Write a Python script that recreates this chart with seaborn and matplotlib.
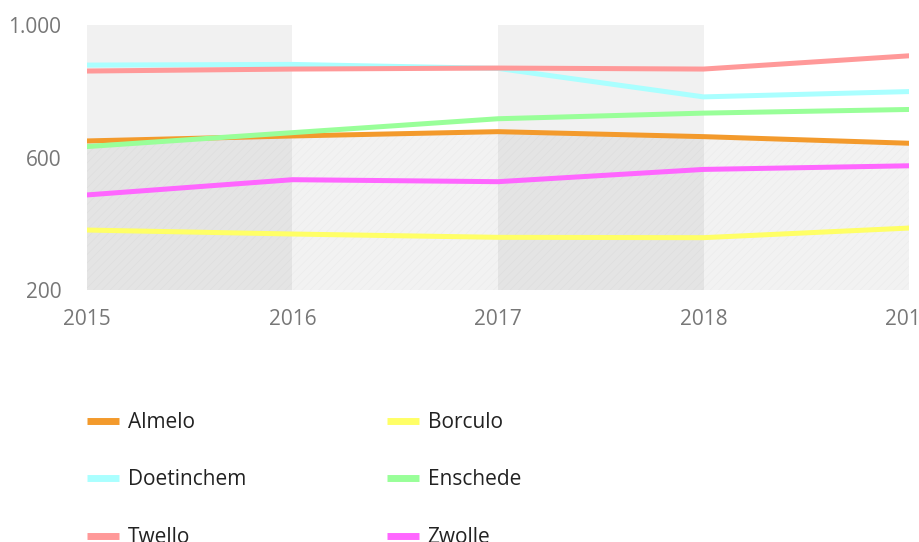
import matplotlib
matplotlib.use("Agg")
import matplotlib.pyplot as plt
import matplotlib.ticker as mticker
from matplotlib.lines import Line2D
import pandas as pd
import seaborn as sns

# ==========================================
# data
# ==========================================
years = [2015, 2016, 2017, 2018, 2019]
almelo = [650, 665, 678, 663, 643]
borculo = [381, 369, 359, 358, 387]
doetinchem = [879, 881, 869, 783, 799]
enschede = [633, 675, 717, 734, 745]
twello = [861, 867, 870, 867, 907]
zwolle = [487, 533, 527, 564, 575]

cities = ["Almelo", "Borculo", "Doetinchem", "Enschede", "Twello", "Zwolle"]
colors = ["#f39a2c", "#ffff66", "#aaffff", "#99ff99", "#ff9999", "#ff66ff"]
series = [almelo, borculo, doetinchem, enschede, twello, zwolle]

df = pd.concat(
    [pd.DataFrame({"year": years, "value": vals, "city": name})
     for name, vals in zip(cities, series)],
    ignore_index=True,
)

# --- style ---
sns.set_theme(style="white")
plt.rcParams["font.family"] = ["Open Sans", "DejaVu Sans"]
plt.rcParams["hatch.linewidth"] = 0.6

fig = plt.figure(figsize=(9.2, 5.42), dpi=100)
ax = fig.add_axes([87 / 920, 1 - 290 / 542, 822 / 920, 265 / 542])

# alternating background bands
for x0, x1 in [(years[0], years[1]), (years[2], years[3])]:
    ax.axvspan(x0, x1, color="#f1f1f1", lw=0, zorder=0)

# shaded area below Almelo
ax.fill_between(years, almelo, 200, facecolor=(0, 0, 0, 0.05),
                edgecolor=(0, 0, 0, 0.025), hatch="////", linewidth=0, zorder=1)

sns.lineplot(data=df, x="year", y="value", hue="city", hue_order=cities,
             palette=colors, linewidth=3.6, legend=False, ax=ax, zorder=3)

ax.set_xlim(2015, 2019)
ax.set_ylim(200, 1000)
ax.set_xticks(years)
ax.set_yticks([200, 600, 1000])
ax.yaxis.set_major_formatter(
    mticker.FuncFormatter(lambda v, p: f"{v:,.0f}".replace(",", ".")))
ax.set_xlabel("")
ax.set_ylabel("")
for s in ax.spines.values():
    s.set_visible(False)
ax.tick_params(axis="both", length=0, labelsize=15, labelcolor="#777777")
ax.tick_params(axis="y", pad=18.5)
ax.tick_params(axis="x", pad=14)
ax.grid(False)

# legend, row order Almelo/Borculo, Doetinchem/Enschede, Twello/Zwolle
order = [0, 2, 4, 1, 3, 5]
handles = [Line2D([0], [0], color=colors[i], lw=5, solid_capstyle="butt")
           for i in order]
labels = [cities[i] for i in order]
fig.legend(handles, labels, loc="upper left", ncol=2,
           bbox_to_anchor=(87 / 920, 1 - 412 / 542),
           frameon=False, fontsize=15, borderpad=0, borderaxespad=0,
           handlelength=1.54, handletextpad=0.43, labelspacing=1.75,
           columnspacing=6.73, labelcolor="#222222")

fig.savefig("out.png", dpi=100)
